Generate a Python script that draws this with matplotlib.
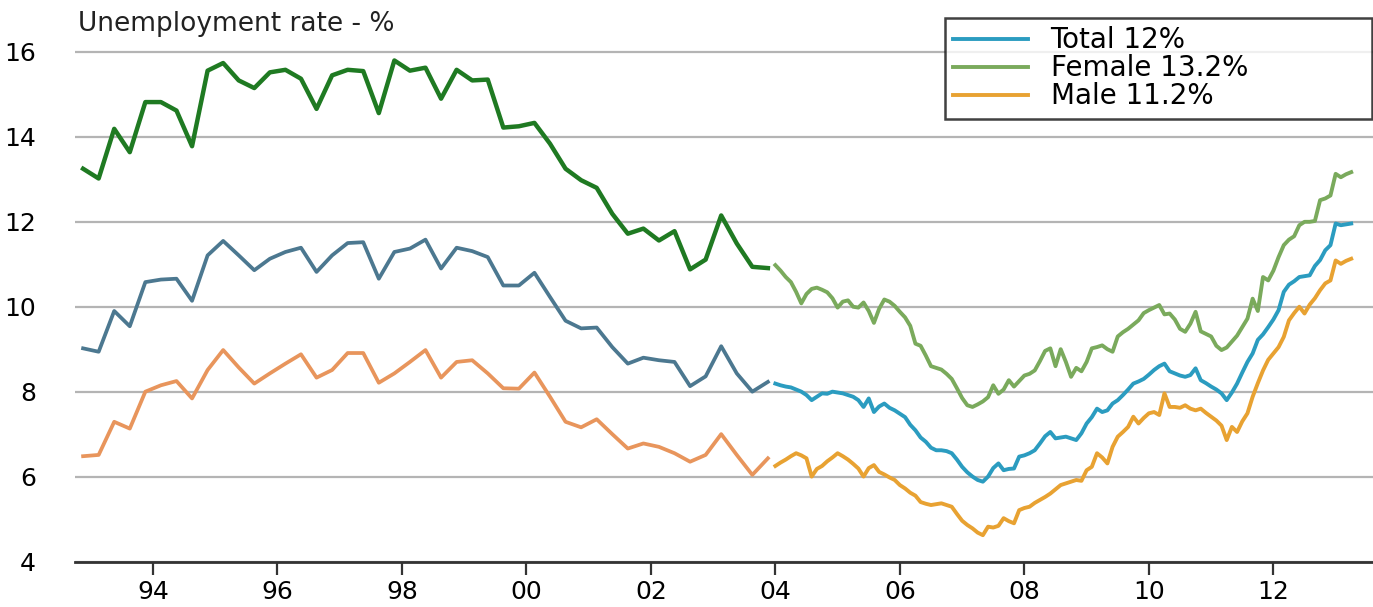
import numpy as np
from matplotlib import pyplot as plt


# quarterly series 1993 - 2003 (darker lines)
q_start = 1992.88
female_q = [13.25, 13.02, 14.19, 13.64, 14.82, 14.82, 14.62, 13.78, 15.56, 15.74,
            15.33, 15.15, 15.52, 15.58, 15.37, 14.66, 15.45, 15.58, 15.55, 14.56,
            15.80, 15.56, 15.63, 14.90, 15.58, 15.33, 15.35, 14.22, 14.25, 14.33,
            13.84, 13.25, 12.98, 12.80, 12.19, 11.72, 11.84, 11.56, 11.78, 10.88,
            11.11, 12.15, 11.49, 10.94, 10.91]
total_q = [9.02, 8.94, 9.90, 9.54, 10.58, 10.64, 10.66, 10.14, 11.21, 11.55,
           11.21, 10.86, 11.13, 11.29, 11.39, 10.82, 11.21, 11.50, 11.52, 10.66,
           11.29, 11.37, 11.58, 10.90, 11.39, 11.31, 11.17, 10.50, 10.50, 10.80,
           10.23, 9.67, 9.49, 9.51, 9.05, 8.66, 8.80, 8.74, 8.70, 8.13,
           8.36, 9.07, 8.43, 8.00, 8.23]
male_q = [6.48, 6.51, 7.29, 7.13, 8.00, 8.15, 8.25, 7.84, 8.51, 8.98,
          8.57, 8.19, 8.43, 8.66, 8.88, 8.33, 8.51, 8.91, 8.91, 8.21,
          8.43, 8.70, 8.98, 8.33, 8.70, 8.74, 8.43, 8.08, 8.07, 8.45,
          7.88, 7.29, 7.16, 7.35, 7.00, 6.66, 6.78, 6.70, 6.55, 6.35,
          6.51, 7.00, 6.51, 6.04, 6.43]

# monthly series Jan 2004 - Apr 2013 (lighter lines)
m_start = 2004.0
female_m = [10.98, 10.85, 10.70, 10.58, 10.35, 10.08, 10.30, 10.42, 10.45, 10.40,
            10.34, 10.20, 9.98, 10.12, 10.15, 10.00, 9.98, 10.10, 9.90, 9.62,
            9.95, 10.17, 10.12, 10.02, 9.88, 9.75, 9.55, 9.13, 9.08, 8.85,
            8.60, 8.56, 8.52, 8.42, 8.30, 8.08, 7.85, 7.68, 7.64, 7.70,
            7.77, 7.87, 8.15, 7.95, 8.05, 8.27, 8.12, 8.25, 8.38, 8.42,
            8.50, 8.72, 8.96, 9.02, 8.60, 9.00, 8.70, 8.35, 8.56, 8.48,
            8.70, 9.02, 9.05, 9.09, 9.00, 8.94, 9.30, 9.40, 9.48, 9.58,
            9.68, 9.85, 9.92, 9.98, 10.04, 9.82, 9.84, 9.70, 9.48, 9.41,
            9.60, 9.88, 9.42, 9.36, 9.30, 9.08, 8.98, 9.04, 9.18, 9.32,
            9.52, 9.72, 10.19, 9.90, 10.70, 10.62, 10.85, 11.17, 11.45, 11.58,
            11.66, 11.92, 12.00, 12.00, 12.02, 12.51, 12.55, 12.62, 13.13, 13.05,
            13.12, 13.17]
total_m = [8.19, 8.15, 8.12, 8.10, 8.05, 8.00, 7.92, 7.80, 7.88, 7.96,
           7.95, 8.00, 7.98, 7.96, 7.92, 7.88, 7.80, 7.64, 7.84, 7.52,
           7.65, 7.72, 7.62, 7.56, 7.48, 7.40, 7.22, 7.09, 6.92, 6.82,
           6.68, 6.62, 6.62, 6.60, 6.55, 6.40, 6.23, 6.10, 6.00, 5.92,
           5.88, 6.00, 6.20, 6.31, 6.15, 6.18, 6.19, 6.47, 6.50, 6.55,
           6.62, 6.78, 6.95, 7.05, 6.90, 6.92, 6.94, 6.90, 6.86, 7.02,
           7.25, 7.40, 7.60, 7.52, 7.56, 7.72, 7.80, 7.92, 8.05, 8.19,
           8.24, 8.30, 8.40, 8.51, 8.60, 8.66, 8.48, 8.43, 8.38, 8.35,
           8.39, 8.55, 8.27, 8.20, 8.12, 8.05, 7.96, 7.80, 7.98, 8.19,
           8.45, 8.70, 8.90, 9.22, 9.35, 9.52, 9.70, 9.92, 10.35, 10.52,
           10.60, 10.70, 10.72, 10.74, 10.96, 11.10, 11.33, 11.45, 11.96, 11.92,
           11.94, 11.96]
male_m = [6.25, 6.33, 6.40, 6.48, 6.55, 6.50, 6.43, 6.00, 6.18, 6.25,
          6.36, 6.45, 6.55, 6.48, 6.40, 6.30, 6.19, 6.00, 6.20, 6.27,
          6.11, 6.05, 5.98, 5.92, 5.80, 5.72, 5.62, 5.55, 5.40, 5.36,
          5.33, 5.35, 5.37, 5.33, 5.29, 5.12, 4.96, 4.86, 4.78, 4.68,
          4.62, 4.82, 4.80, 4.84, 5.02, 4.95, 4.90, 5.21, 5.26, 5.29,
          5.38, 5.45, 5.52, 5.60, 5.70, 5.80, 5.84, 5.88, 5.92, 5.90,
          6.15, 6.23, 6.55, 6.45, 6.31, 6.70, 6.94, 7.05, 7.17, 7.41,
          7.25, 7.38, 7.49, 7.52, 7.45, 7.96, 7.64, 7.64, 7.62, 7.68,
          7.60, 7.56, 7.60, 7.50, 7.41, 7.32, 7.20, 6.86, 7.17, 7.05,
          7.30, 7.49, 7.88, 8.20, 8.50, 8.75, 8.90, 9.05, 9.29, 9.68,
          9.85, 10.00, 9.84, 10.05, 10.20, 10.39, 10.55, 10.62, 11.09, 11.01,
          11.08, 11.13]

legend_labels = ['Total 12%', 'Female 13.2%', 'Male 11.2%']
tick_years = [1994, 1996, 1998, 2000, 2002, 2004, 2006, 2008, 2010, 2012]
tick_labels = ['94', '96', '98', '00', '02', '04', '06', '08', '10', '12']
y_ticks = [4, 6, 8, 10, 12, 14, 16]

q_dates = q_start + 0.25 * np.arange(len(female_q))
m_dates = m_start + np.arange(len(female_m)) / 12.0

plt.rcParams['font.family'] = ['DejaVu Sans']

fig = plt.figure(figsize=(13.73, 6.07), dpi=100)
ax = fig.add_axes([75 / 1373, 45.5 / 607, 1298 / 1373, 535 / 607])

# old quarterly data
ax.plot(q_dates, female_q, color='#1f7a22', lw=3.2)
ax.plot(q_dates, total_q, color='#4c7890', lw=2.7)
ax.plot(q_dates, male_q, color='#e8955c', lw=2.7)

# new monthly data
l_total, = ax.plot(m_dates, total_m, color='#2b9cc0', lw=2.8)
l_female, = ax.plot(m_dates, female_m, color='#7aaa5c', lw=2.8)
l_male, = ax.plot(m_dates, male_m, color='#e8a232', lw=2.8)

ax.set_xlim(1992.75, 2013.6)
ax.set_ylim(4, 16.6)
ax.set_yticks(y_ticks)
ax.set_yticklabels([str(v) for v in y_ticks])
ax.set_xticks(tick_years)
ax.set_xticklabels(tick_labels)

ax.grid(axis='y', color='#b4b4b4', lw=1.6)
ax.set_axisbelow(True)
for side in ['top', 'right', 'left']:
    ax.spines[side].set_visible(False)
ax.spines['bottom'].set_color('#333333')
ax.spines['bottom'].set_linewidth(2)
ax.tick_params(axis='x', length=9, width=1.6, color='#333333', labelsize=18, pad=4)
ax.tick_params(axis='y', length=0, labelsize=18, pad=28)

fig.text(78 / 1373, 1 - 24 / 607, 'Unemployment rate - %', fontsize=19,
         va='center', ha='left', color='#222222')

leg = ax.legend([l_total, l_female, l_male], legend_labels,
                loc='upper left', mode='expand',
                bbox_to_anchor=(945 / 1373, 1 - 117 / 607, 427 / 1373, 99 / 607),
                bbox_transform=fig.transFigure,
                fontsize=20, frameon=True, fancybox=False, borderaxespad=0,
                handlelength=2.7, handletextpad=0.8, labelspacing=0.0,
                borderpad=0.3)
leg.get_frame().set_edgecolor('#111111')
leg.get_frame().set_linewidth(1.8)
for line in leg.get_lines():
    line.set_linewidth(2.8)

fig.savefig('out.png', dpi=100)
plt.close(fig)
